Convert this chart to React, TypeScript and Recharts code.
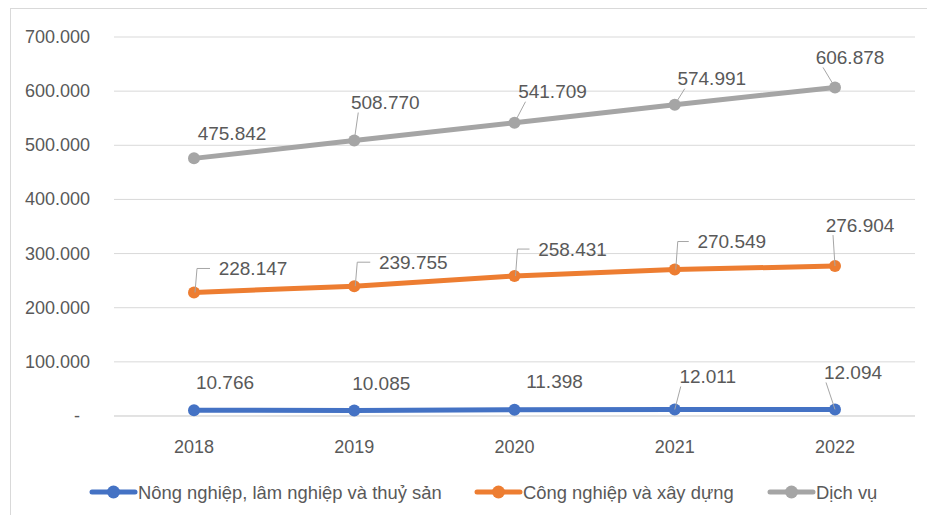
import React from 'react';
import { LineChart, Line, XAxis, YAxis, CartesianGrid } from 'recharts';

const years = ['2018', '2019', '2020', '2021', '2022'];
const nongNghiep = [10766, 10085, 11398, 12011, 12094];
const congNghiep = [228147, 239755, 258431, 270549, 276904];
const dichVu = [475842, 508770, 541709, 574991, 606878];
const yTicks = [0, 100000, 200000, 300000, 400000, 500000, 600000, 700000];

const seriesKeys = ['nong', 'cong', 'dich'] as const;
const seriesNames = {
  nong: 'Nông nghiệp, lâm nghiệp và thuỷ sản',
  cong: 'Công nghiệp và xây dựng',
  dich: 'Dịch vụ',
};

const colors = { nong: '#4472C4', cong: '#ED7D31', dich: '#A5A5A5' };

// vị trí nhãn dữ liệu (tâm chữ so với điểm) và kiểu đường dẫn
type Leader = 'none' | 'diag' | 'elbow';
const labelPos: Record<string, [number, number, Leader][]> = {
  nong: [[31, -28, 'none'], [27, -27, 'none'], [40, -28, 'none'], [33, -33, 'diag'], [18, -37, 'diag']],
  cong: [[59, -24, 'elbow'], [59, -24, 'elbow'], [58, -27, 'elbow'], [57, -28, 'elbow'], [25, -41, 'diag']],
  dich: [[38, -25, 'none'], [31, -38, 'diag'], [38, -31, 'diag'], [37, -26, 'diag'], [15, -30, 'diag']],
};

// legend: x bắt đầu của mỗi mục
const legendX = { nong: 90, cong: 475, dich: 768 };

const data = years.map((year, i) => ({
  year,
  nong: nongNghiep[i],
  cong: congNghiep[i],
  dich: dichVu[i],
}));

const FONT = "'Liberation Sans', Arial, sans-serif";
const TEXT = '#595959';

const fmt = (v: number) => Math.round(v).toString().replace(/\B(?=(\d{3})+(?!\d))/g, '.');

const makeLabel = (key: string) => (props: any) => {
  const { x, y, value, index } = props;
  const [dx, dy, leader] = labelPos[key][index];
  const cx = x + dx;
  const cy = y + dy;
  const halfW = 31;
  let path = null;
  if (leader === 'diag') {
    path = <line x1={x} y1={y} x2={cx - halfW + 4} y2={cy + 10} stroke="#A6A6A6" strokeWidth={1} />;
  } else if (leader === 'elbow') {
    path = (
      <polyline
        points={`${x + 1},${y} ${x + 3},${cy} ${cx - halfW - 12},${cy}`}
        fill="none"
        stroke="#A6A6A6"
        strokeWidth={1}
      />
    );
  }
  return (
    <g>
      {path}
      <text x={cx} y={cy} textAnchor="middle" dominantBaseline="central" fill={TEXT} fontSize={19} fontFamily={FONT}>
        {fmt(value)}
      </text>
    </g>
  );
};

const YTick = (props: any) => {
  const { x, y, payload } = props;
  const isZero = payload.value === 0;
  return (
    <text
      x={isZero ? x - 10 : x}
      y={y}
      textAnchor="end"
      dominantBaseline="central"
      fill={TEXT}
      fontSize={18}
      fontFamily={FONT}
    >
      {isZero ? '-' : fmt(payload.value)}
    </text>
  );
};

const ChartLegend = () => (
  <svg width={935} height={30} style={{ position: 'absolute', left: 0, top: 477 }}>
    {seriesKeys.map((k) => {
      const x0 = legendX[k];
      return (
        <g key={k}>
          <line x1={x0 + 2} y1={15} x2={x0 + 45} y2={15} stroke={colors[k]} strokeWidth={5} strokeLinecap="round" />
          <circle cx={x0 + 23.5} cy={15} r={6.5} fill={colors[k]} />
          <text x={x0 + 48} y={15} dominantBaseline="central" fill={TEXT} fontSize={18.4} fontFamily={FONT}>
            {seriesNames[k]}
          </text>
        </g>
      );
    })}
  </svg>
);

export default function App() {
  return (
    <div style={{ position: 'relative', width: 935, height: 523, margin: -8, overflow: 'hidden', background: '#fff' }}>
      <div
        style={{
          position: 'absolute',
          left: 10,
          top: 8,
          width: 940,
          height: 530,
          border: '1px solid #d9d9d9',
        }}
      />
      <LineChart
        width={935}
        height={523}
        data={data}
        margin={{ top: 37, right: 20, left: 0, bottom: 77 }}
        style={{ position: 'absolute', left: 0, top: 0 }}
      >
        <CartesianGrid vertical={false} stroke="#d9d9d9" strokeWidth={1} />
        <XAxis
          dataKey="year"
          padding={{ left: 80, right: 80 }}
          tickLine={false}
          axisLine={{ stroke: '#d9d9d9' }}
          tick={{ fill: TEXT, fontSize: 18, fontFamily: FONT }}
          tickMargin={18}
        />
        <YAxis
          domain={[0, 700000]}
          ticks={yTicks}
          width={114}
          tickLine={false}
          axisLine={false}
          tickMargin={18}
          tick={<YTick />}
        />
        {seriesKeys.map((k) => (
          <Line
            key={k}
            dataKey={k}
            name={seriesNames[k]}
            stroke={colors[k]}
            strokeWidth={5}
            dot={{ r: 6, fill: colors[k], stroke: colors[k], strokeWidth: 0 }}
            label={makeLabel(k)}
            isAnimationActive={false}
          />
        ))}
      </LineChart>
      <ChartLegend />
    </div>
  );
}
